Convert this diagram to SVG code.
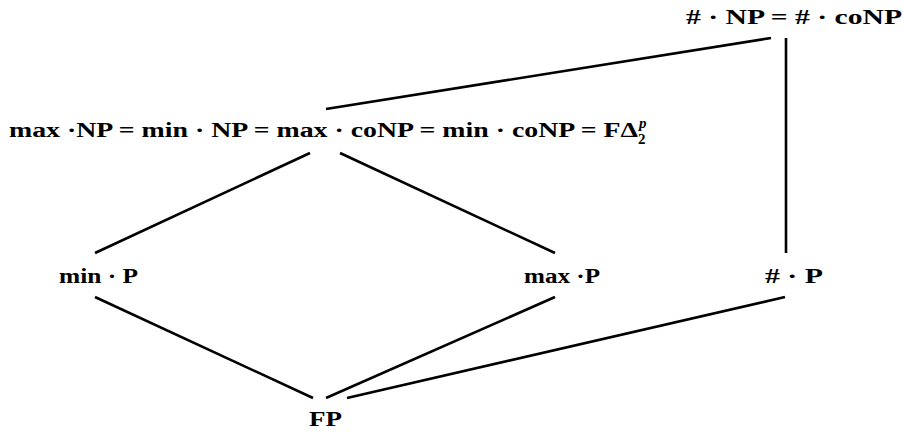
<svg xmlns="http://www.w3.org/2000/svg" width="904" height="432" viewBox="0 0 904 432">
<style>
.t{font-family:"Liberation Serif","DejaVu Serif",serif;font-weight:bold;font-size:20px;fill:#000}
.s{font-family:"Liberation Serif","DejaVu Serif",serif;font-weight:bold;font-size:15px;fill:#000}
.i{font-family:"Liberation Serif","DejaVu Serif",serif;font-weight:bold;font-style:italic;font-size:15px;fill:#000}
.e line{stroke:#000;stroke-width:2.6;stroke-linecap:butt}
</style>
<rect width="904" height="432" fill="#fff"/>
<g class="e" id="connectors">
<line x1="771" y1="38" x2="326" y2="109"/>
<line x1="786" y1="38" x2="786" y2="253"/>
<line x1="310" y1="153" x2="95" y2="253"/>
<line x1="340" y1="153" x2="555" y2="253"/>
<line x1="95" y1="297" x2="313" y2="398"/>
<line x1="555" y1="297" x2="326" y2="398"/>
<line x1="785" y1="297" x2="347" y2="398"/>
</g>
<g id="sharpNP"><text class="t" x="686" y="24" textLength="216" lengthAdjust="spacingAndGlyphs"># · NP = # · coNP</text></g>
<g id="maxNP"><text class="t" x="9" y="137" textLength="629" lengthAdjust="spacingAndGlyphs">max ·NP = min · NP = max · coNP = min · coNP = FΔ</text><text class="i" x="639" y="128">p</text><text class="s" x="638" y="144">2</text></g>
<g id="minP"><text class="t" x="59" y="283" textLength="79" lengthAdjust="spacingAndGlyphs">min · P</text></g>
<g id="maxP"><text class="t" x="524" y="283" textLength="76" lengthAdjust="spacingAndGlyphs">max ·P</text></g>
<g id="sharpP"><text class="t" x="765" y="283" textLength="58" lengthAdjust="spacingAndGlyphs"># · P</text></g>
<g id="FP"><text class="t" x="309" y="426" textLength="33" lengthAdjust="spacingAndGlyphs">FP</text></g>
</svg>
